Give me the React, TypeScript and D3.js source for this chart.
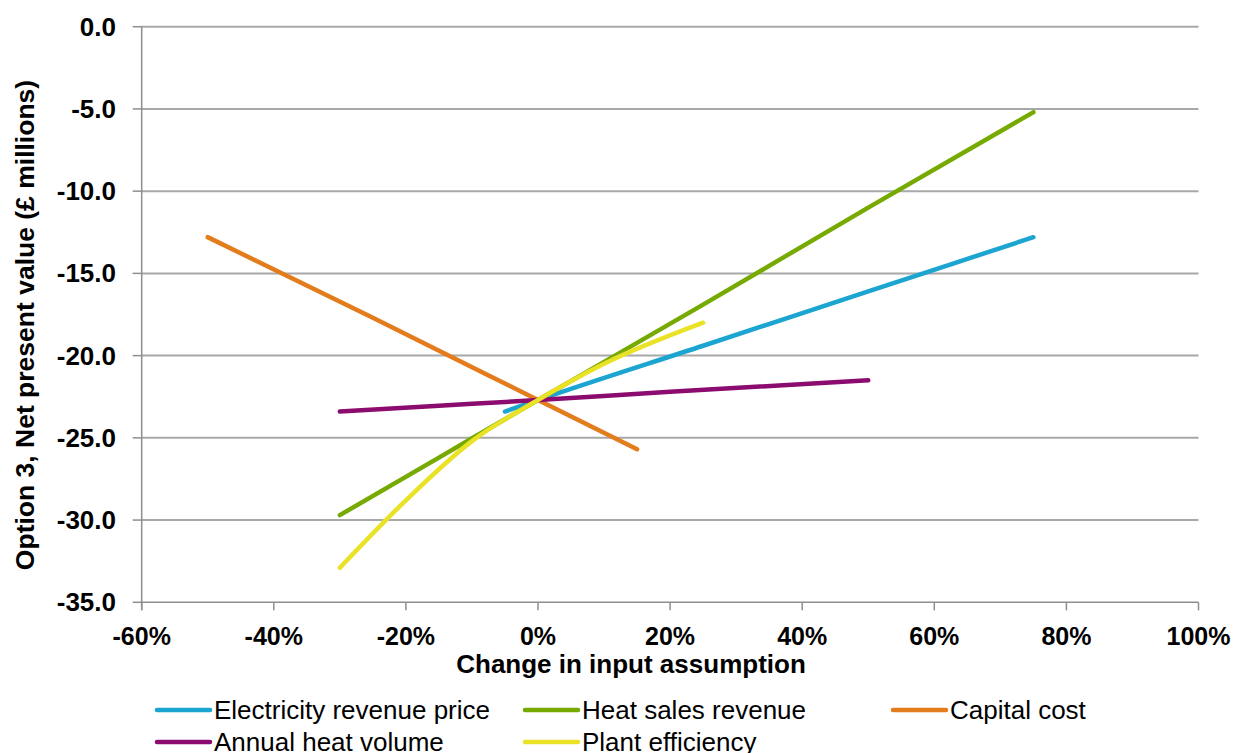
import React from "react";
import * as d3 from "d3";

const yTicks = [0, -5, -10, -15, -20, -25, -30, -35];
const xTicks = [-60, -40, -20, 0, 20, 40, 60, 80, 100];

const electricityX = [-5, 0, 25, 50, 75];
const electricityY = [-23.4, -22.7, -19.4, -16.1, -12.8];

const heatSalesX = [-30, -15, 0, 25, 50, 75];
const heatSalesY = [-29.7, -26.2, -22.7, -16.9, -11.0, -5.2];

const capitalX = [-50, -25, 0, 15];
const capitalY = [-12.8, -17.7, -22.7, -25.7];

const heatVolumeX = [-30, -15, 0, 20, 50];
const heatVolumeY = [-23.4, -23.05, -22.7, -22.2, -21.5];

const efficiencyX = [-30, -20, -10, 0, 10, 25];
const efficiencyY = [-32.9, -28.8, -25.2, -22.7, -20.5, -18.0];

const seriesNames = [
  "Electricity revenue price",
  "Heat sales revenue",
  "Capital cost",
  "Annual heat volume",
  "Plant efficiency",
];
const seriesColors = ["#1BA5D0", "#77AA00", "#E37C1C", "#8C0B6E", "#E9E226"];

const W = 1235;
const H = 753;
const FONT = "Liberation Sans, Arial, sans-serif";

export default function App() {
  const x = d3.scaleLinear().domain([-60, 100]).range([141.7, 1198.5]);
  const y = d3.scaleLinear().domain([0, -35]).range([26.7, 602.3]);

  const series = [
    { xs: electricityX, ys: electricityY },
    { xs: heatSalesX, ys: heatSalesY },
    { xs: capitalX, ys: capitalY },
    { xs: heatVolumeX, ys: heatVolumeY },
    { xs: efficiencyX, ys: efficiencyY },
  ];

  const line = d3
    .line<[number, number]>()
    .x((d) => x(d[0]))
    .y((d) => y(d[1]))
    .curve(d3.curveMonotoneX);

  const legendItems = [
    { i: 0, lx: 157, ly: 710 },
    { i: 1, lx: 525, ly: 710 },
    { i: 2, lx: 893, ly: 710 },
    { i: 3, lx: 157, ly: 742 },
    { i: 4, lx: 525, ly: 742 },
  ];

  const [x0, x1] = x.range();
  const [y0, y1] = y.range();

  return (
    <svg
      width={W}
      height={H}
      style={{ position: "absolute", left: 0, top: 0, background: "#fff" }}
      fontFamily={FONT}
    >
      {yTicks.slice(0, -1).map((t) => (
        <line key={"g" + t} x1={x0} x2={x1} y1={y(t)} y2={y(t)} stroke="#A8A8A8" strokeWidth={2} />
      ))}
      {yTicks.map((t) => (
        <line key={"yt" + t} x1={x0 - 9} x2={x0} y1={y(t)} y2={y(t)} stroke="#8E8E8E" strokeWidth={1.5} />
      ))}
      {xTicks.map((t) => (
        <line key={"xt" + t} x1={x(t)} x2={x(t)} y1={y1} y2={y1 + 8} stroke="#8E8E8E" strokeWidth={1.5} />
      ))}
      <line x1={x0} x2={x0} y1={y0} y2={y1 + 8} stroke="#8E8E8E" strokeWidth={1.5} />
      <line x1={x0} x2={x1} y1={y1} y2={y1} stroke="#8E8E8E" strokeWidth={1.5} />

      {yTicks.map((t) => (
        <text key={"yl" + t} x={116} y={y(t) + 9} textAnchor="end" fontSize={26} fontWeight="bold" fill="#000">
          {t.toFixed(1)}
        </text>
      ))}
      {xTicks.map((t) => (
        <text key={"xl" + t} x={x(t)} y={645} textAnchor="middle" fontSize={25} fontWeight="bold" fill="#000">
          {t + "%"}
        </text>
      ))}
      <text x={631} y={673} textAnchor="middle" fontSize={26} fontWeight="bold" fill="#000">
        Change in input assumption
      </text>
      <text
        transform={`translate(34,325) rotate(-90)`}
        textAnchor="middle"
        fontSize={26.5}
        fontWeight="bold"
        fill="#000"
      >
        Option 3, Net present value (£ millions)
      </text>

      {series.map((s, i) => (
        <path
          key={"s" + i}
          d={line(s.xs.map((v, k) => [v, s.ys[k]] as [number, number])) || ""}
          fill="none"
          stroke={seriesColors[i]}
          strokeWidth={4.5}
          strokeLinecap="round"
          strokeLinejoin="round"
        />
      ))}

      {legendItems.map((it) => (
        <g key={"lg" + it.i}>
          <line
            x1={it.lx}
            x2={it.lx + 53}
            y1={it.ly}
            y2={it.ly}
            stroke={seriesColors[it.i]}
            strokeWidth={4.5}
            strokeLinecap="round"
          />
          <text x={it.lx + 57} y={it.ly + 9} fontSize={26} fill="#000">
            {seriesNames[it.i]}
          </text>
        </g>
      ))}
    </svg>
  );
}
